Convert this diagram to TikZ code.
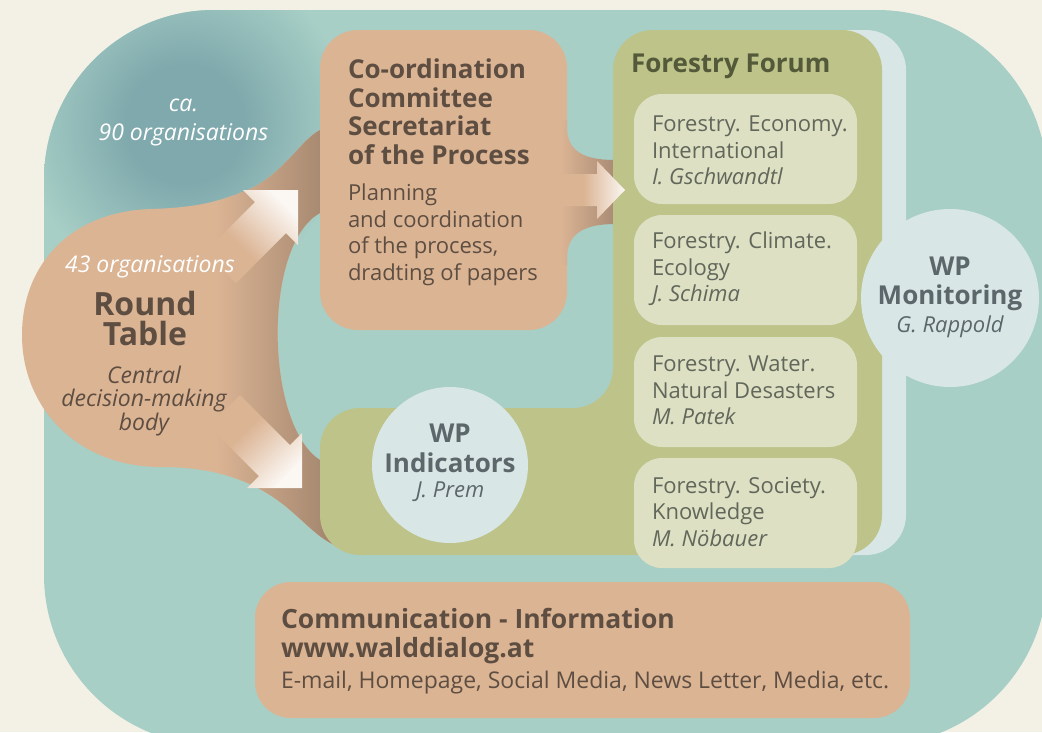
\documentclass[tikz,border=0pt]{standalone}
\usepackage{fontspec}
\setmainfont{Open Sans}
\definecolor{cream}{HTML}{F3F1E6}
\definecolor{tealbg}{HTML}{A7CFC6}
\definecolor{tealdark}{HTML}{80A9AD}
\definecolor{tanc}{HTML}{DBB494}
\definecolor{armbrown}{HTML}{9C806A}
\definecolor{tabbrown}{HTML}{A98B74}
\definecolor{arrowwhite}{HTML}{FBF7F3}
\definecolor{greenc}{HTML}{BDC389}
\definecolor{subbox}{HTML}{DEE0C3}
\definecolor{paleblue}{HTML}{D8E6E6}
\definecolor{browntext}{HTML}{5E4E42}
\definecolor{forumtext}{HTML}{61675A}
\definecolor{forumtitle}{HTML}{535939}
\definecolor{circtext}{HTML}{5C676B}
\pgfdeclareradialshading{tealglow}{\pgfpoint{0bp}{0bp}}{color(0bp)=(tealdark); color(9bp)=(tealdark); color(25bp)=(tealbg); color(50bp)=(tealbg)}
\pgfdeclarehorizontalshading{arrowfade}{100bp}{color(0bp)=(tanc); color(42bp)=(tanc); color(75bp)=(arrowwhite); color(100bp)=(arrowwhite)}
\newcommand{\myreg}{\fontsize{22}{26.5}\selectfont}
\newcommand{\myital}{\fontsize{22}{26.5}\selectfont\itshape}
\newcommand{\myhead}{\fontsize{26}{28.5}\selectfont\bfseries}
\tikzset{
  txt/.style={inner sep=0pt, outer sep=0pt},
  lefttxt/.style={txt, anchor=north west, align=left},
  centtxt/.style={txt, anchor=north, align=center},
  subbx/.style={fill=subbox, rounded corners=28},
  blockarrow/.style={shading=arrowfade},
}
\begin{document}
\begin{tikzpicture}[x=1pt,y=-1pt]
\useasboundingbox (0,0) rectangle (1042,732);
\fill[cream] (0,0) rectangle (1042,732);
\begin{scope}
\clip (0,0) rectangle (1042,732);
% big teal area
\fill[tealbg, rounded corners=170] (44,10) rectangle (1047,745);
\begin{scope}
  \clip[rounded corners=170] (44,10) rectangle (1047,745);
  \shade[shading=tealglow] (185,124) circle (165);
\end{scope}
% round table blob
\def\blobpath{(345,130) -- (320,130) .. controls (300,140) and (280,180) .. (240,193) .. controls (215,203) and (190,208) .. (150,209) .. controls (70,212) and (22,265) .. (22,335) .. controls (22,410) and (80,467) .. (160,467) .. controls (215,467) and (255,480) .. (290,510) .. controls (310,527) and (325,545) .. (345,548) -- (345,460) -- (320,460) .. controls (265,425) and (262,245) .. (320,213) -- (345,213) -- cycle}
\fill[tanc] \blobpath;
\begin{scope}
  \clip \blobpath;
  \shade[left color=tanc, right color=armbrown] (215,100) rectangle (345,560);
\end{scope}
% diagonal arrows (round table -> coordination, round table -> indicators)
\shade[blockarrow, shading angle=45] (298,190) -- (243,190) -- (255,202) -- (205,252) -- (236,283) -- (286,233) -- (298,245) -- cycle;
\shade[blockarrow, shading angle=-45] (302,488) -- (302,433) -- (290,445) -- (240,395) -- (209,426) -- (259,476) -- (247,488) -- cycle;
% coordination box and tab
\fill[tanc, rounded corners=38] (320,30) rectangle (567,330);
\shade[left color=tanc, right color=tabbrown] (560,120) -- (567,120) -- (567,127) .. controls (567,152) and (585,160) .. (615,160) -- (615,224) .. controls (585,224) and (567,233) .. (567,258) -- (567,265) -- (560,265) -- cycle;
% pale panel behind forum
\fill[paleblue, rounded corners=40] (640,30) rectangle (906,555);
% green L shape
\fill[greenc, rounded corners=40] (750,30) -- (882,30) -- (882,555) -- (320,555) -- (320,408) -- (613,408) -- (613,30) -- cycle;
% right arrow (coordination -> forum)
\shade[blockarrow] (625,190) -- (597,161) -- (597,174) -- (562,174) -- (562,206) -- (597,206) -- (597,219) -- cycle;
% sub boxes
\fill[subbx] (634,94) rectangle (857,204);
\fill[subbx] (634,215) rectangle (857,325);
\fill[subbx] (634,337) rectangle (857,447);
\fill[subbx] (634,458) rectangle (857,568);
% circles
\fill[paleblue] (950,298) circle (89);
\fill[paleblue] (450,465) circle (78);
% communication box
\fill[tanc, rounded corners=36] (255,582) rectangle (910,718);
\end{scope}
% texts
\node[centtxt, white, font=\fontsize{23}{29}\selectfont\itshape] (ca) at (183.5,99) {ca.\\90 organisations};
\node[centtxt, white, font=\fontsize{23}{26}\selectfont\itshape] (org43) at (150,256) {43 organisations};
\node[centtxt, browntext, font=\fontsize{32}{30.5}\selectfont\bfseries] (rt) at (145,291) {Round\\Table};
\node[centtxt, browntext, font=\fontsize{23}{23.5}\selectfont\itshape] (rtsub) at (144,366) {Central\\decision-making\\body};
\node[lefttxt, browntext, font=\myhead] (coord) at (348,59) {Co-ordination\\Committee\\Secretariat\\of the Process};
\node[lefttxt, browntext, font=\myreg] (plan) at (348,184) {Planning\\and coordination\\of the process,\\dradting of papers};
\node[lefttxt, forumtitle, font=\myhead] (forum) at (631,54) {Forestry Forum};
\node[lefttxt, forumtext, font=\myreg] (f1) at (652,116) {Forestry. Economy.\\International\\\textit{I. Gschwandtl}};
\node[lefttxt, forumtext, font=\myreg] (f2) at (652,232) {Forestry. Climate.\\Ecology\\\textit{J. Schima}};
\node[lefttxt, forumtext, font=\myreg] (f3) at (652,356) {Forestry. Water.\\Natural Desasters\\\textit{M. Patek}};
\node[lefttxt, forumtext, font=\myreg] (f4) at (652,477) {Forestry. Society.\\Knowledge\\\textit{M. Nöbauer}};
\node[centtxt, circtext, font=\fontsize{26}{29}\selectfont\bfseries] (wpm) at (950,257) {WP\\Monitoring};
\node[centtxt, circtext, font=\myital] (wpmname) at (950,316) {G. Rappold};
\node[centtxt, circtext, font=\fontsize{26}{29.5}\selectfont\bfseries] (wpi) at (450,424) {WP\\Indicators};
\node[centtxt, circtext, font=\myital] (wpiname) at (450,482) {J. Prem};
\node[lefttxt, browntext, font=\fontsize{26.5}{29}\selectfont\bfseries] (comm) at (281,608) {Communication - Information\\www.walddialog.at};
\node[lefttxt, browntext, font=\fontsize{23}{26}\selectfont] (commsub) at (281,671) {E-mail, Homepage, Social Media, News Letter, Media, etc.};
\end{tikzpicture}
\end{document}
